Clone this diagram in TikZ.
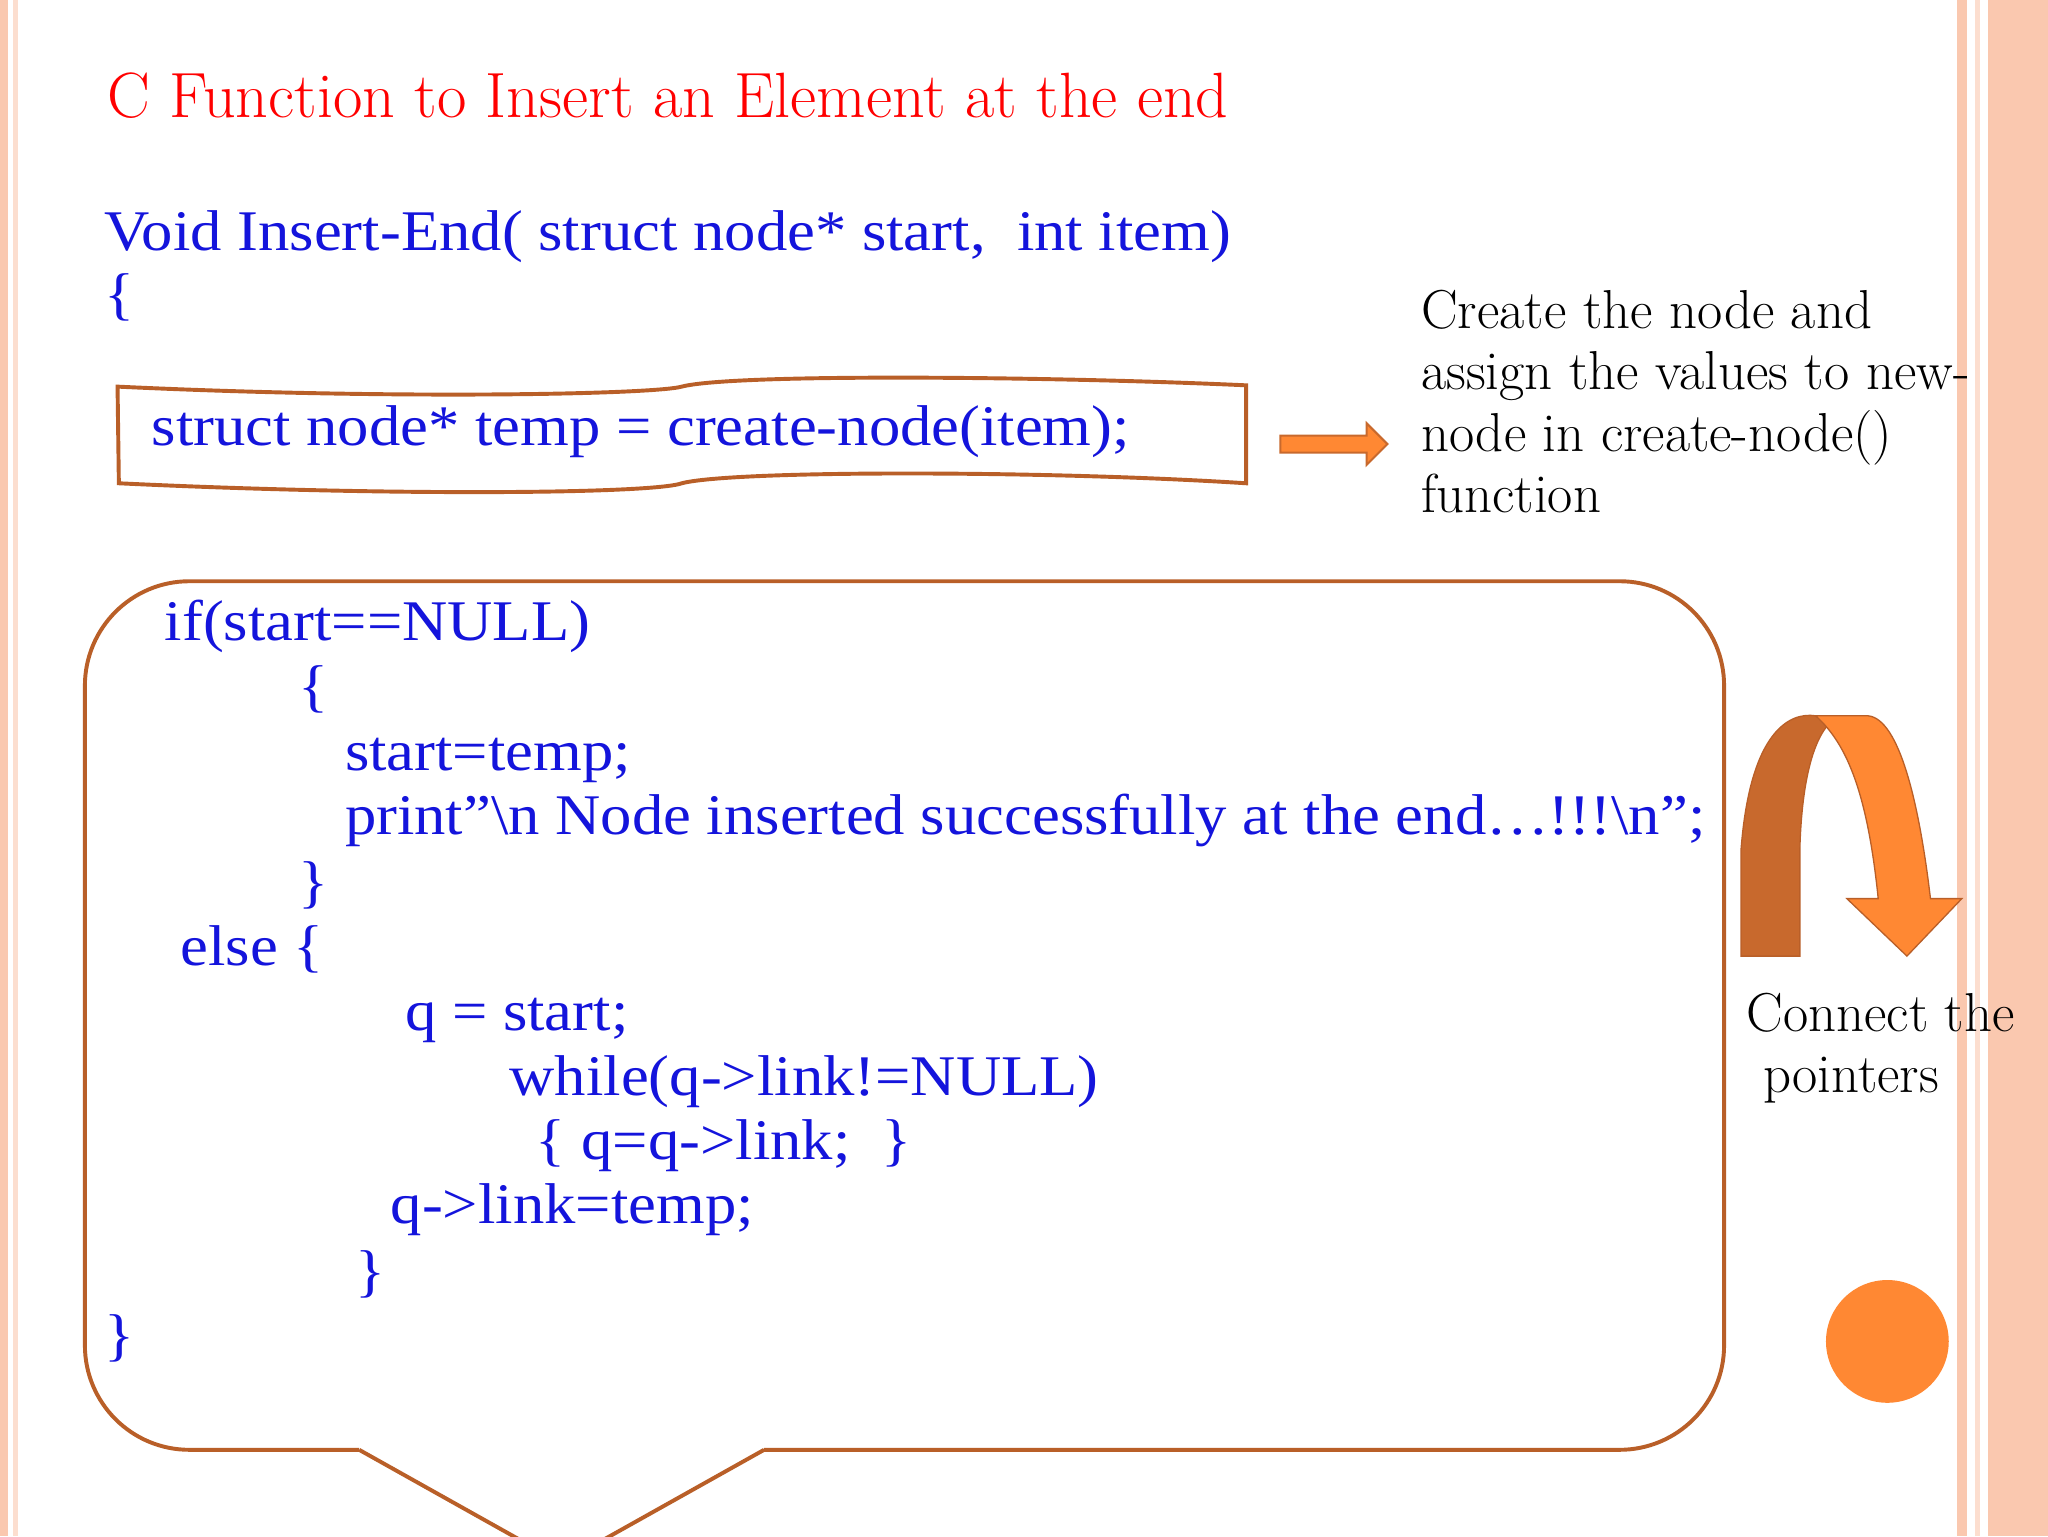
\documentclass[tikz,border=0pt]{standalone}
\usepackage{fontspec}
\newfontfamily\codefont[FakeStretch=1.09]{Liberation Serif}
\usetikzlibrary{shapes.arrows}
\definecolor{brd}{RGB}{185,95,40}
\definecolor{org}{RGB}{255,136,51}
\definecolor{dorg}{RGB}{200,105,45}
\definecolor{blu}{RGB}{20,20,220}
\definecolor{stripe}{RGB}{250,200,175}
\begin{document}
\begin{tikzpicture}[x=1pt,y=-1pt,
 code/.style={anchor=base west,inner sep=0pt,text=blu,font=\codefont\fontsize{44}{50}\selectfont},
 side/.style={anchor=north west,inner sep=0pt,text=black,font=\fontsize{42}{47}\selectfont,align=left}]
\useasboundingbox (0,0) rectangle (1568,1176);
\fill[white] (0,0) rectangle (1568,1176);
% stripes
\fill[stripe] (0,0) rectangle (6,1176);
\fill[stripe!60] (10,0) rectangle (14,1176);
\fill[stripe] (1498,0) rectangle (1506,1176);
\fill[stripe!60] (1512,0) rectangle (1516,1176);
\fill[stripe] (1522,0) rectangle (1568,1176);
% title
\node[anchor=base west,inner sep=0pt,text=red,font=\fontsize{49}{54}\selectfont] (title) at (82,90) {C Function to Insert an Element at the end};
\node[code] (sig) at (80,192) {Void Insert-End( struct node* start,\ \ int item)};
\node[code] (ob) at (80,240) {\{};
% wave box
\draw[brd,line width=3pt] (90,296) .. controls (300,306) and (500,302) .. (522,296)
  .. controls (560,286) and (800,288) .. (954,295) -- (954,370)
  .. controls (800,360) and (560,360) .. (522,370)
  .. controls (500,378) and (300,380) .. (91,370) -- cycle;
\node[code] (l1) at (116,341) {struct node* temp = create-node(item);};
% block arrow
\node[single arrow,draw=dorg,fill=org,line width=1.5pt,minimum height=82pt,minimum width=32pt,single arrow head extend=4pt,inner sep=2pt] (arr) at (1018,340) {};
\node[side] (d1) at (1088,222) {Create the node and\\assign the values to new-\\node in create-node()\\function};
% callout
\draw[brd,line width=3pt,rounded corners=80pt] (275,1110) -- (65,1110) -- (65,445) -- (1320,445) -- (1320,1110) -- (585,1110);
\draw[brd,line width=3pt] (275,1110) -- (400,1180) (585,1110) -- (460,1180);
\node[code] (c1) at (126,490) {if(start==NULL)};
\node[code] (c2) at (228,540) {\{};
\node[code] (c3) at (264,590) {start=temp;};
\node[code] (c4) at (264,639) {print”\textbackslash n Node inserted successfully at the end…!!!\textbackslash n”;};
\node[code] (c5) at (228,690) {\}};
\node[code] (c6) at (138,739) {else \{};
\node[code] (c7) at (310,789) {q = start;};
\node[code] (c8) at (390,839) {while(q->link!=NULL)};
\node[code] (c9) at (410,888) {\{ q=q->link;\ \ \}};
\node[code] (c10) at (299,937) {q->link=temp;};
\node[code] (c11) at (272,988) {\}};
\node[code] (c12) at (80,1037) {\}};
% curved arrow
\fill[dorg,draw=brd,line width=1pt] (1333,732) -- (1333,650) .. controls (1340,560) and (1370,545) .. (1390,548)
  -- (1410,548) .. controls (1395,552) and (1380,580) .. (1378,650) -- (1378,732) -- cycle;
\fill[org,draw=brd,line width=1pt] (1390,548) -- (1430,548) .. controls (1455,550) and (1470,620) .. (1478,688)
  -- (1502,688) -- (1460,732) -- (1414,688) -- (1438,688) .. controls (1430,610) and (1415,570) .. (1390,548) -- cycle;
\node[side] (d2) at (1337,760) {Connect the\\\ pointers};
\fill[org] (1445,1027) circle[radius=47];
\end{tikzpicture}
\end{document}
